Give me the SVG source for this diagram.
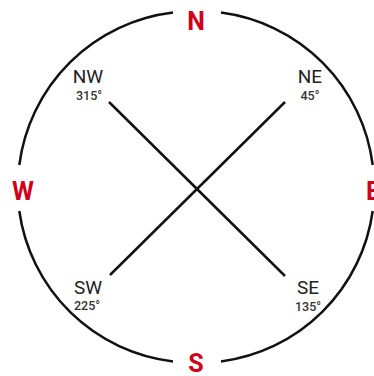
<svg xmlns="http://www.w3.org/2000/svg" width="374" height="376" viewBox="0 0 374 376">
<style>
.ring{fill:none;stroke:#111;stroke-width:2.5}
.ln{stroke:#111;stroke-width:2.5;stroke-linecap:butt}
.card{font-family:Roboto,"Liberation Sans",sans-serif;font-weight:bold;font-size:25px;fill:#d0021b;text-anchor:middle}
.lbl{font-family:Roboto,"Liberation Sans",sans-serif;font-size:19px;fill:#222;text-anchor:middle}
.deg{font-family:Roboto,"Liberation Sans",sans-serif;font-size:12.5px;font-weight:500;fill:#333;text-anchor:middle}
</style>
<rect width="374" height="376" fill="#fff"/>
<g id="ring">
<path class="ring" d="M 173 12.6 A 176 176 0 0 0 19.3 165"/>
<path class="ring" d="M 19.3 211 A 176 176 0 0 0 173 361.4"/>
<path class="ring" d="M 221 361.4 A 176 176 0 0 0 372.7 211"/>
<path class="ring" d="M 372.7 165 A 176 176 0 0 0 221 12.6"/>
</g>
<g id="connectors">
<line class="ln" x1="109" y1="102" x2="285" y2="276"/>
<line class="ln" x1="285" y1="102" x2="110" y2="275"/>
</g>
<g id="N"><text class="card" x="196" y="30">N</text></g>
<g id="S"><text class="card" x="196" y="372">S</text></g>
<g id="W"><text class="card" x="23" y="200">W</text></g>
<g id="E"><text class="card" x="373" y="200">E</text></g>
<g id="NW"><text class="lbl" x="88" y="83">NW</text><text class="deg" x="89" y="100">315°</text></g>
<g id="NE"><text class="lbl" x="310" y="83">NE</text><text class="deg" x="310" y="100">45°</text></g>
<g id="SW"><text class="lbl" x="88" y="294">SW</text><text class="deg" x="87" y="310">225°</text></g>
<g id="SE"><text class="lbl" x="308" y="294">SE</text><text class="deg" x="308" y="311">135°</text></g>
</svg>
